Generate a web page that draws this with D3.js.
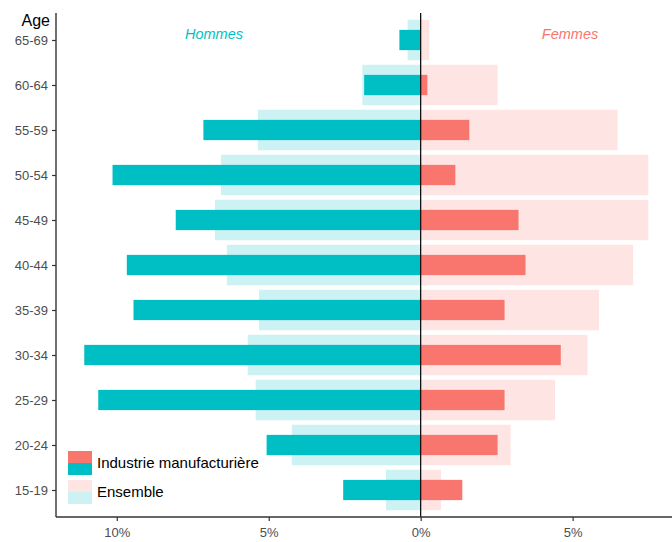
<!DOCTYPE html>
<html>
<head>
<meta charset="utf-8">
<script src="https://cdn.jsdelivr.net/npm/d3@7"></script>
<style>
  body { margin: 0; background: #fff; }
  svg text { font-family: "Liberation Sans", Arial, sans-serif; }
</style>
</head>
<body>
<div id="chart"></div>
<script>
// age groups, top to bottom
const ages = ["65-69", "60-64", "55-59", "50-54", "45-49", "40-44", "35-39", "30-34", "25-29", "20-24", "15-19"];

// % of each population (men drawn on the left)
const hommesIndustrie = [0.70, 1.86, 7.15, 10.14, 8.06, 9.67, 9.45, 11.07, 10.61, 5.07, 2.55];
const hommesEnsemble  = [0.43, 1.92, 5.36, 6.57, 6.77, 6.38, 5.32, 5.69, 5.43, 4.24, 1.14];
const femmesIndustrie = [0.00, 0.22, 1.60, 1.14, 3.22, 3.45, 2.76, 4.61, 2.76, 2.53, 1.37];
const femmesEnsemble  = [0.28, 2.53, 6.48, 7.49, 7.49, 6.99, 5.87, 5.49, 4.42, 2.96, 0.67];

const xTicks = [-10, -5, 0, 5];

const width = 672, height = 542;
const teal = "#00BFC4", red = "#F8766D";

const svg = d3.select("#chart").append("svg")
    .attr("width", width)
    .attr("height", height);

const x = d3.scaleLinear().domain([-12.0, 8.27]).range([56, 672]);
const y = d3.scalePoint().domain(ages).range([13, 517]).padding(0.6);
const step = y.step();

// one row per age group
const rows = ages.map((a, i) => ({
    age: a,
    hi: hommesIndustrie[i], he: hommesEnsemble[i],
    fi: femmesIndustrie[i], fe: femmesEnsemble[i]
}));

const bars = svg.append("g");

// Ensemble (wide, pale)
bars.selectAll(".he").data(rows).enter().append("rect")
    .attr("x", d => x(-d.he))
    .attr("width", d => x(0) - x(-d.he))
    .attr("y", d => y(d.age) - step * 0.45)
    .attr("height", step * 0.9)
    .attr("fill", teal).attr("fill-opacity", 0.2);

bars.selectAll(".fe").data(rows).enter().append("rect")
    .attr("x", x(0))
    .attr("width", d => x(d.fe) - x(0))
    .attr("y", d => y(d.age) - step * 0.45)
    .attr("height", step * 0.9)
    .attr("fill", red).attr("fill-opacity", 0.2);

// Industrie manufacturière (narrow, solid)
bars.selectAll(".hi").data(rows).enter().append("rect")
    .attr("x", d => x(-d.hi))
    .attr("width", d => x(0) - x(-d.hi))
    .attr("y", d => y(d.age) - step * 0.225)
    .attr("height", step * 0.45)
    .attr("fill", teal);

bars.selectAll(".fi").data(rows).enter().append("rect")
    .attr("x", x(0))
    .attr("width", d => x(d.fi) - x(0))
    .attr("y", d => y(d.age) - step * 0.225)
    .attr("height", step * 0.45)
    .attr("fill", red);

// zero line
svg.append("line")
    .attr("x1", x(0)).attr("x2", x(0))
    .attr("y1", 13).attr("y2", 517)
    .attr("stroke", "#000").attr("stroke-width", 1.2);

// axes
const xAxis = svg.append("g")
    .attr("transform", "translate(0,517)")
    .call(d3.axisBottom(x).tickValues(xTicks).tickSize(4).tickPadding(7)
        .tickFormat(d => Math.abs(d) + "%"));

const yAxis = svg.append("g")
    .attr("transform", "translate(56,0)")
    .call(d3.axisLeft(y).tickSize(4).tickPadding(4));

[xAxis, yAxis].forEach(g => {
    g.select(".domain").attr("stroke", "#333").attr("stroke-width", 1.4);
    g.selectAll(".tick line").attr("stroke", "#333").attr("stroke-width", 1.2);
    g.selectAll(".tick text").attr("fill", "#4D4D4D").style("font-size", "13px")
        .style("font-family", "'Liberation Sans', Arial, sans-serif");
});
yAxis.select(".domain").attr("d", "M0,13V517");
xAxis.select(".domain").attr("d", "M56,0H672");

// titles
svg.append("text")
    .attr("x", 50).attr("y", 26)
    .attr("text-anchor", "end")
    .style("font-size", "16px")
    .attr("fill", "#000")
    .text("Age");

svg.append("text")
    .attr("x", 214).attr("y", 39)
    .attr("text-anchor", "middle")
    .style("font-size", "14.5px").style("font-style", "italic")
    .attr("fill", teal)
    .text("Hommes");

svg.append("text")
    .attr("x", 570).attr("y", 39)
    .attr("text-anchor", "middle")
    .style("font-size", "14.5px").style("font-style", "italic")
    .attr("fill", red)
    .text("Femmes");

// legend
const legend = svg.append("g").attr("transform", "translate(68,451)");
const legendItems = [
    { label: "Industrie manufacturière", opacity: 1 },
    { label: "Ensemble", opacity: 0.2 }
];
legendItems.forEach((item, i) => {
    const g = legend.append("g").attr("transform", "translate(0," + (i * 29) + ")");
    g.append("rect").attr("width", 24).attr("height", 12)
        .attr("fill", red).attr("fill-opacity", item.opacity);
    g.append("rect").attr("y", 12).attr("width", 24).attr("height", 12)
        .attr("fill", teal).attr("fill-opacity", item.opacity);
    g.append("text").attr("x", 29).attr("y", 17)
        .style("font-size", "15px").attr("fill", "#000")
        .text(item.label);
});
</script>
</body>
</html>
